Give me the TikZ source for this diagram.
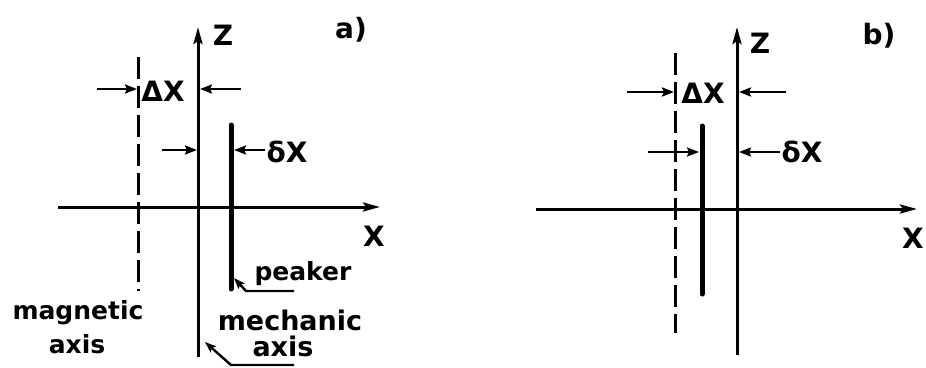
\documentclass[tikz,border=0pt]{standalone}
\usepackage{fontspec}
\setmainfont{DejaVu Sans}
\usetikzlibrary{arrows.meta}
\begin{document}
\begin{tikzpicture}[x=1pt,y=-1pt,
  axisarrow/.style={line width=3pt,-{Stealth[length=17pt,width=9pt,inset=3pt]}},
  dim/.style={line width=2.8pt,-{Stealth[length=12pt,width=9pt,inset=2pt]}},
  dashaxis/.style={line width=3pt,dash pattern=on 22pt off 7pt},
  rod/.style={line width=5pt,line cap=round},
  lbl/.style={font=\bfseries\fontsize{28}{30}\selectfont,inner sep=0pt},
  txt/.style={font=\bfseries\fontsize{25}{26}\selectfont,inner sep=0pt},
  bigtxt/.style={font=\bfseries\fontsize{27}{28}\selectfont,inner sep=0pt},
  leaderarrow/.style={line width=2.4pt,-{Stealth[length=11pt,width=8pt,inset=2pt]}}]
\useasboundingbox (0,0) rectangle (926,367);

% ---------------- panel a ----------------
\coordinate (aZb) at (198,357);
\coordinate (aZt) at (198,27);
\coordinate (aXl) at (58,207);
\coordinate (aXr) at (380,207);
\draw[axisarrow] (aZb) -- (aZt);
\draw[axisarrow] (aXl) -- (aXr);
\node[lbl] (aZ) at (223,35) {Z};
\node[lbl] (aX) at (374,236) {X};
\node[lbl] (aLab) at (351,30) {a)};

\coordinate (aMt) at (138,57);
\coordinate (aMb) at (138,291);
\draw[dashaxis] (aMt) -- (aMb);

\coordinate (aPt) at (231,125);
\coordinate (aPb) at (231,289);
\draw[rod] (aPt) -- (aPb);

\node[lbl] (aDX) at (163,91) {ΔX};
\coordinate (aDXs1) at (97,89);
\coordinate (aDXe1) at (137,89);
\coordinate (aDXs2) at (241,89);
\coordinate (aDXe2) at (200,89);
\draw[dim] (aDXs1) -- (aDXe1);
\draw[dim] (aDXs2) -- (aDXe2);

\node[lbl] (adx) at (287,152) {δX};
\coordinate (adxs1) at (162,150);
\coordinate (adxe1) at (197,150);
\coordinate (adxe2) at (234,150);
\draw[dim] (adxs1) -- (adxe1);
\draw[dim] ([xshift=-1pt]adx.west |- adxe2) -- (adxe2);

\node[txt] (apk) at (303,274) {peaker};
\coordinate (apkU1) at (294,291);
\coordinate (apkU2) at (246,291);
\coordinate (apkT) at (234,278);
\draw[leaderarrow] (apkU1) -- (apkU2) -- (apkT);

\node[txt] (amag) at (78,313) {magnetic};
\node[txt] (amaga) at (77,344) {axis};
\node[bigtxt] (amech) at (290,320) {mechanic};
\node[bigtxt] (amecha) at (283,346) {axis};
\coordinate (amU1) at (294,365);
\coordinate (amU2) at (231,365);
\coordinate (amT) at (205,342);
\draw[leaderarrow] (amU1) -- (amU2) -- (amT);

% ---------------- panel b ----------------
\coordinate (bZb) at (737,355);
\coordinate (bZt) at (737,27);
\coordinate (bXl) at (536,209);
\coordinate (bXr) at (917,209);
\draw[axisarrow] (bZb) -- (bZt);
\draw[axisarrow] (bXl) -- (bXr);
\node[lbl] (bZ) at (760,43) {Z};
\node[lbl] (bX) at (913,238) {X};
\node[lbl] (bLab) at (879,36) {b)};

\coordinate (bMt) at (675,53);
\coordinate (bMb) at (675,333);
\draw[dashaxis] (bMt) -- (bMb);

\coordinate (bPt) at (702,126);
\coordinate (bPb) at (702,294);
\draw[rod] (bPt) -- (bPb);

\node[lbl] (bDX) at (703,93) {ΔX};
\coordinate (bDXs1) at (627,92);
\coordinate (bDXe1) at (674,92);
\coordinate (bDXs2) at (786,92);
\coordinate (bDXe2) at (739,92);
\draw[dim] (bDXs1) -- (bDXe1);
\draw[dim] (bDXs2) -- (bDXe2);

\node[lbl] (bdx) at (802,152) {δX};
\coordinate (bdxs1) at (648,152);
\coordinate (bdxe1) at (699,152);
\coordinate (bdxe2) at (739,152);
\draw[dim] (bdxs1) -- (bdxe1);
\draw[dim] ([xshift=-1pt]bdx.west |- bdxe2) -- (bdxe2);
\end{tikzpicture}
\end{document}
